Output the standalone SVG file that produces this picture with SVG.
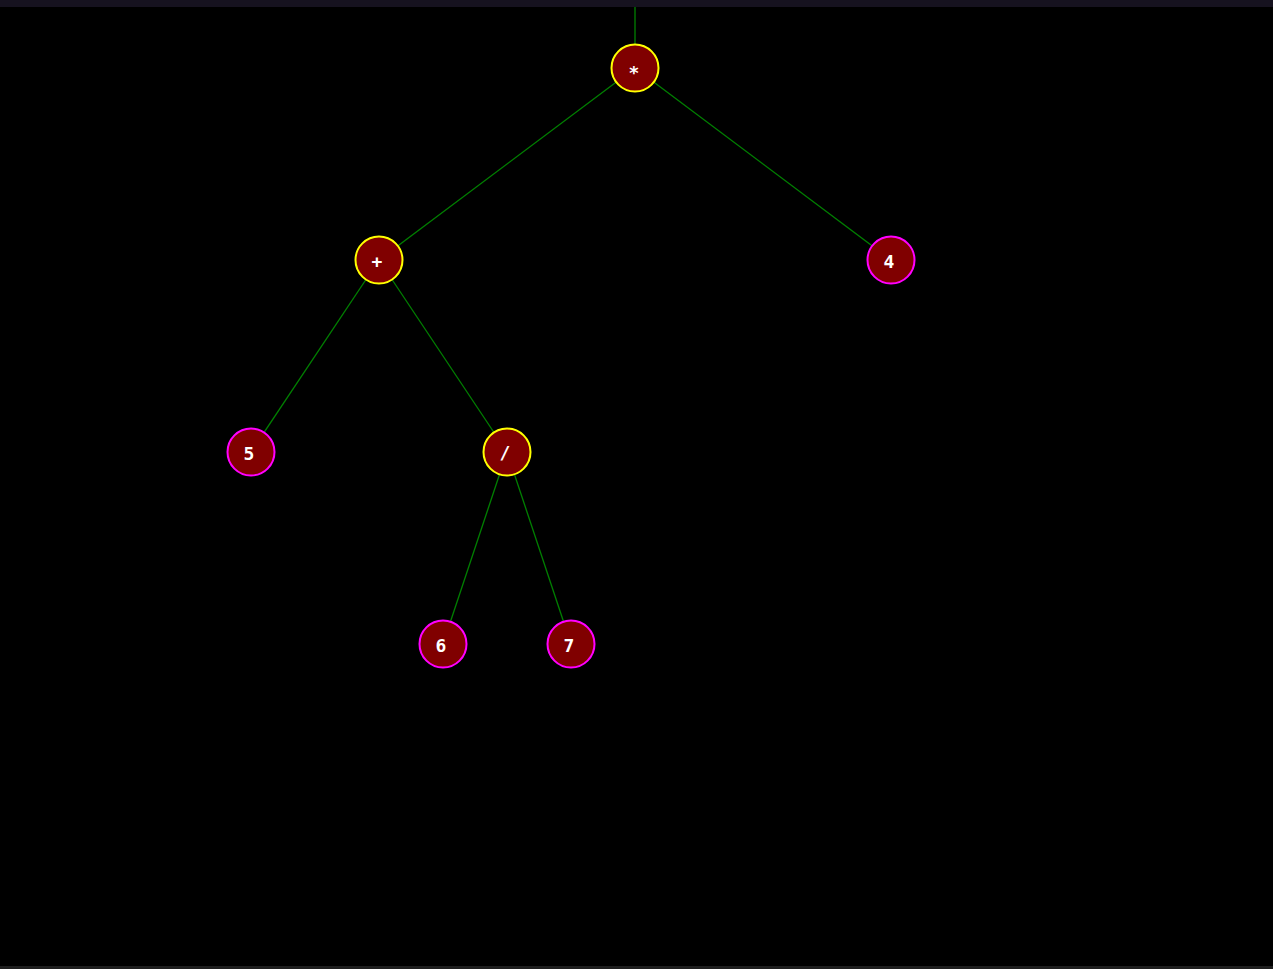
<svg xmlns="http://www.w3.org/2000/svg" width="1273" height="969" viewBox="0 0 1273 969">
<style>
.edge{stroke:#008000;stroke-width:1.3;fill:none}
.op circle{fill:#800000;stroke:#ffff00;stroke-width:2}
.leaf circle{fill:#800000;stroke:#ff00ff;stroke-width:2}
text{fill:#ffffff;font-family:"DejaVu Sans Mono","Liberation Mono",monospace;font-weight:bold;font-size:18px;text-anchor:middle;dominant-baseline:central}
</style>
<rect x="0" y="0" width="1273" height="969" fill="#000000"/>
<rect x="0" y="0" width="1273" height="7" fill="#16121f"/>
<rect x="0" y="966" width="1273" height="3" fill="#1e1e1e"/>
<g id="connectors">
<line class="edge" x1="635" y1="7" x2="635" y2="68"/>
<line class="edge" x1="635" y1="68" x2="379" y2="260"/>
<line class="edge" x1="635" y1="68" x2="891" y2="260"/>
<line class="edge" x1="379" y1="260" x2="251" y2="452"/>
<line class="edge" x1="379" y1="260" x2="507" y2="452"/>
<line class="edge" x1="507" y1="452" x2="443" y2="644"/>
<line class="edge" x1="507" y1="452" x2="571" y2="644"/>
</g>
<g id="n-mul" class="op"><circle cx="635" cy="68" r="23.5"/><text x="634" y="72">*</text></g>
<g id="n-add" class="op"><circle cx="379" cy="260" r="23.5"/><text x="377" y="261">+</text></g>
<g id="n-4" class="leaf"><circle cx="891" cy="260" r="23.5"/><text x="889" y="261">4</text></g>
<g id="n-5" class="leaf"><circle cx="251" cy="452" r="23.5"/><text x="249" y="453">5</text></g>
<g id="n-div" class="op"><circle cx="507" cy="452" r="23.5"/><text x="505" y="452">/</text></g>
<g id="n-6" class="leaf"><circle cx="443" cy="644" r="23.5"/><text x="441" y="645">6</text></g>
<g id="n-7" class="leaf"><circle cx="571" cy="644" r="23.5"/><text x="569" y="645">7</text></g>
</svg>
